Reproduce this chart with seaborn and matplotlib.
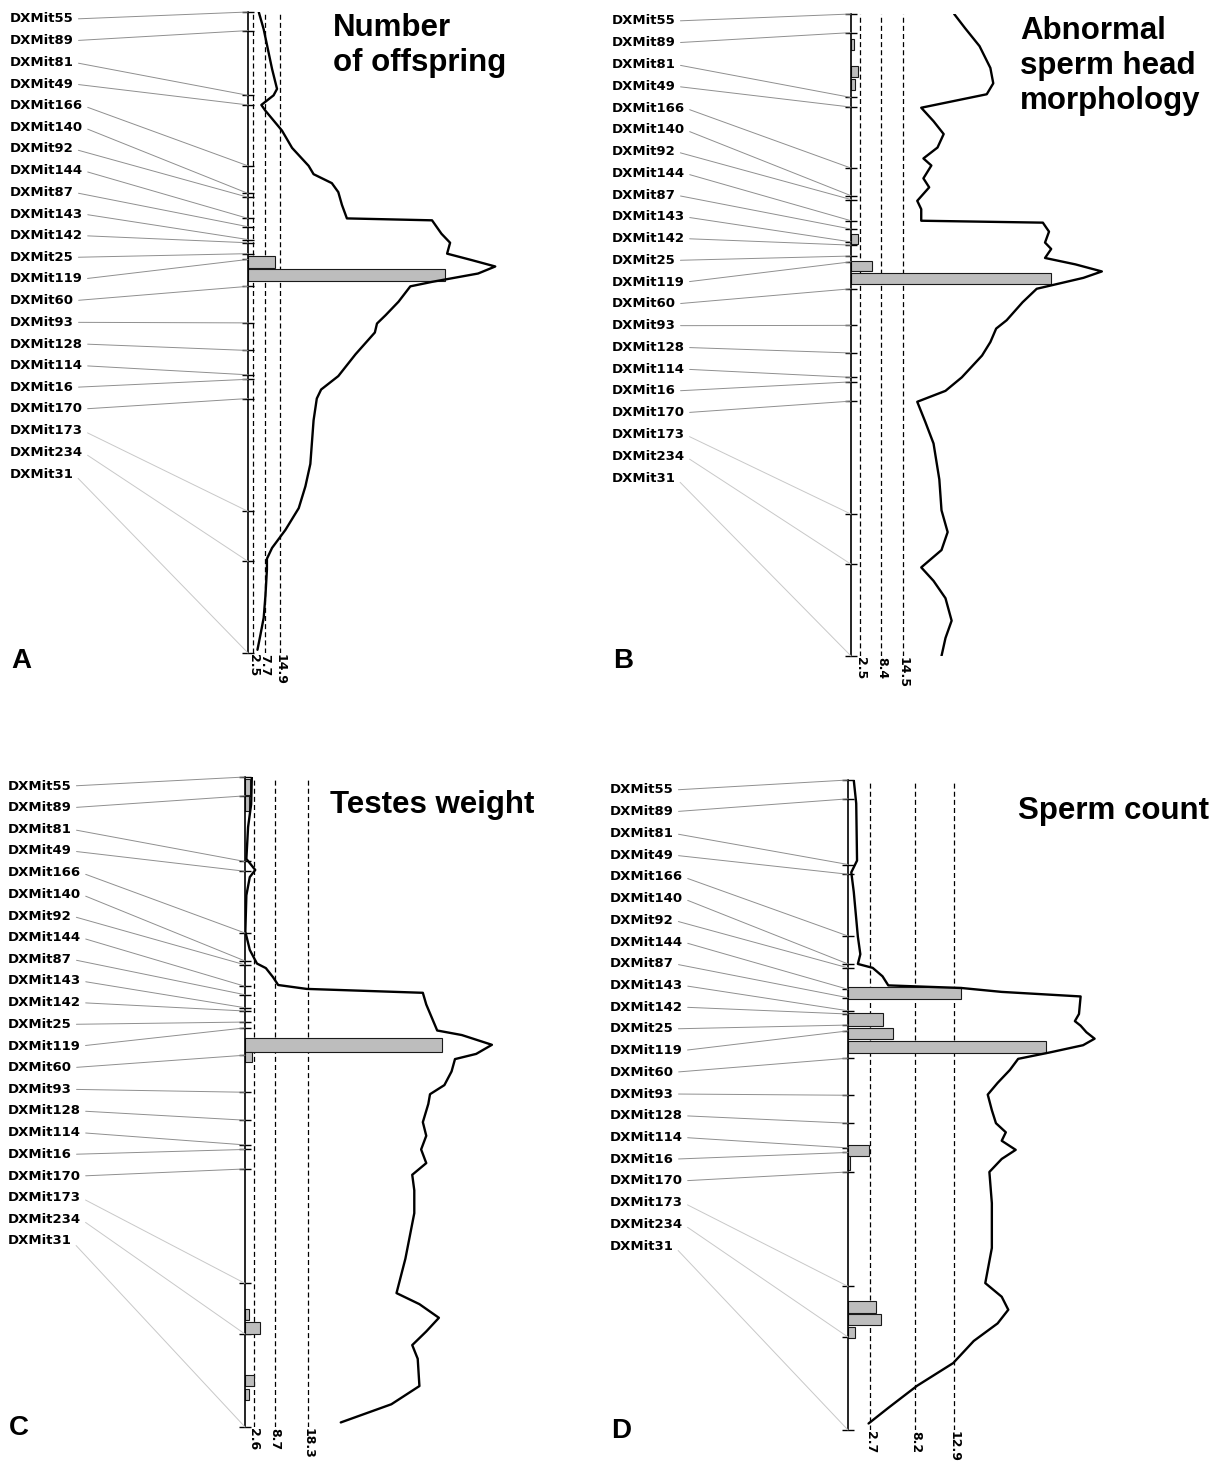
import numpy as np
import matplotlib
matplotlib.use("Agg")
import matplotlib.pyplot as plt
import seaborn as sns

# ---------------- data ----------------
marker_names = ["DXMit55", "DXMit89", "DXMit81", "DXMit49", "DXMit166", "DXMit140",
                "DXMit92", "DXMit144", "DXMit87", "DXMit143", "DXMit142", "DXMit25",
                "DXMit119", "DXMit60", "DXMit93", "DXMit128", "DXMit114", "DXMit16",
                "DXMit170", "DXMit173", "DXMit234", "DXMit31"]
marker_pos = [0, 2.9, 13.0, 14.5, 24.0, 28.3, 28.9, 32.2, 33.5, 35.5, 36.0, 37.7,
              38.6, 42.8, 48.5, 52.8, 56.6, 57.3, 60.3, 77.9, 85.7, 100]

# Panel A - Number of offspring
title_A = "Number\nof offspring"
thresholds_A = [2.5, 7.7, 14.9]
curve_pos_A = [0.0, 2.7, 8.9, 12.0, 13.0, 14.5, 15.4, 18.5, 21.2, 24.0, 25.3, 26.7, 28.1,
               30.1, 32.2, 32.5, 34.6, 36.0, 37.7, 38.7, 39.7, 40.8, 42.1, 42.8, 45.2,
               47.3, 48.6, 50.0, 53.4, 56.8, 58.9, 60.3, 63.7, 70.5, 74.0, 77.4, 80.8,
               83.6, 85.3, 87.0, 91.1, 94.5, 97.3, 99.5]
curve_lrs_A = [5.0, 7.3, 11.2, 13.5, 11.9, 6.2, 8.1, 15.8, 20.5, 28.2, 30.5, 39.0, 42.0,
               43.7, 46.0, 85.6, 90.0, 94.0, 92.6, 104.0, 115.0, 107.0, 85.6, 75.5, 70.0,
               64.0, 60.0, 59.0, 50.0, 42.0, 34.0, 32.0, 30.5, 29.0, 26.7, 23.6, 17.4,
               11.2, 8.8, 8.8, 8.1, 7.3, 5.7, 4.4]
bar_start_A = [38.0, 40.1]
bar_end_A = [39.9, 41.9]
bar_val_A = [12.7, 91.8]

# Panel B - Abnormal sperm head morphology
title_B = "Abnormal\nsperm head\nmorphology"
thresholds_B = [2.5, 8.4, 14.5]
curve_pos_B = [0.0, 2.2, 5.0, 8.4, 10.8, 12.5, 14.6, 16.7, 18.7, 20.8, 22.5, 23.6, 24.6,
               25.6, 27.0, 29.1, 30.4, 32.2, 32.5, 33.9, 35.6, 36.6, 38.0, 39.0, 40.1,
               41.1, 42.8, 44.9, 47.7, 49.0, 51.1, 53.2, 56.6, 58.7, 60.4, 63.5, 66.9,
               72.5, 77.3, 80.7, 83.5, 86.2, 88.3, 91.0, 94.5, 97.2, 100.0]
curve_lrs_B = [28.5, 31.5, 35.5, 38.5, 39.3, 37.5, 19.4, 22.8, 25.6, 23.9, 20.0, 22.2, 21.1,
               20.0, 21.6, 18.3, 19.4, 19.4, 53.0, 54.7, 53.6, 55.3, 53.6, 62.0, 69.3,
               64.2, 51.3, 47.4, 43.0, 40.1, 38.5, 36.2, 30.6, 26.1, 18.3, 20.5, 22.8,
               24.4, 25.0, 26.7, 25.0, 19.4, 22.8, 26.1, 27.8, 26.1, 25.0]
bar_start_B = [3.9, 8.1, 10.1, 34.2, 38.4, 40.4]
bar_end_B = [5.6, 9.8, 11.8, 35.9, 40.1, 42.1]
bar_val_B = [0.9, 2.0, 1.0, 2.0, 5.9, 55.3]

# Panel C - Testes weight
title_C = "Testes weight"
thresholds_C = [2.6, 8.7, 18.3]
curve_pos_C = [0.0, 4.2, 7.7, 12.6, 14.3, 15.4, 18.2, 23.8, 26.6, 28.7, 29.4, 30.8, 32.0,
               32.6, 33.2, 35.0, 37.0, 39.0, 39.7, 41.2, 42.6, 43.4, 45.3, 47.4, 48.8,
               50.3, 53.1, 55.2, 57.3, 59.4, 61.2, 63.6, 67.1, 74.1, 79.4, 81.1, 83.2,
               85.3, 87.4, 89.5, 93.7, 96.5, 99.3]
curve_lrs_C = [2.0, 1.8, 0.9, 0.4, 3.0, 1.4, 0.4, 0.1, 1.4, 3.5, 6.1, 8.2, 9.7,
               18.0, 52.0, 53.0, 54.6, 56.2, 63.4, 72.2, 67.6, 61.4, 60.4, 58.3, 54.1,
               53.6, 52.0, 53.0, 51.5, 53.0, 48.9, 49.5, 49.5, 46.9, 44.3, 51.0, 56.7,
               53.0, 48.9, 50.5, 51.0, 42.8, 28.0]
bar_start_C = [0.3, 3.0, 40.2, 42.3, 81.8, 83.9, 92.0, 94.1]
bar_end_C = [2.8, 5.2, 42.3, 43.9, 83.6, 85.7, 93.7, 95.8]
bar_val_C = [1.6, 1.3, 57.7, 2.0, 1.2, 4.5, 2.5, 1.2]

# Panel D - Sperm count
title_D = "Sperm count"
thresholds_D = [2.7, 8.2, 12.9]
curve_pos_D = [0.0, 3.6, 12.4, 14.2, 17.2, 24.1, 26.8, 28.3, 28.9, 30.2, 31.6, 32.0, 32.6,
               33.3, 36.0, 37.1, 37.8, 38.8, 39.8, 40.8, 41.9, 42.9, 44.6, 46.6, 48.4,
               50.8, 52.8, 54.2, 55.5, 56.9, 58.3, 60.3, 65.1, 72.0, 77.4, 79.5, 81.5,
               83.6, 86.3, 89.7, 93.2, 96.6, 99.0]
curve_lrs_D = [0.7, 1.0, 1.1, 0.4, 0.7, 1.2, 1.5, 1.2, 3.0, 4.2, 4.9, 13.8, 18.7,
               28.3, 28.1, 27.6, 28.3, 29.0, 30.0, 28.6, 24.6, 20.7, 19.7, 18.2, 17.0,
               17.5, 18.0, 19.2, 18.7, 20.4, 18.7, 17.2, 17.5, 17.5, 16.7, 18.7, 19.5,
               18.2, 15.3, 12.8, 8.4, 4.9, 2.5]
bar_start_D = [31.8, 35.9, 38.1, 40.2, 56.1, 57.8, 80.2, 82.2, 84.1]
bar_end_D = [33.7, 37.8, 39.9, 42.0, 57.8, 60.0, 82.0, 83.9, 85.8]
bar_val_D = [13.8, 4.3, 5.5, 24.1, 2.6, 0.3, 3.4, 4.0, 0.9]

# ---------------- style / layout ----------------
sns.set_style("white")
plt.rcParams["font.family"] = ["DejaVu Sans"]
plt.rcParams["text.color"] = "black"
plt.rcParams["xtick.color"] = "black"
plt.rcParams["ytick.color"] = "black"

W, H = 1230, 1461
fig = plt.figure(figsize=(W / 100, H / 100), dpi=100)

layout = {
    "A": dict(axis_x=248, top=12, bottom=653, right=600, scale=2.15,
              label_x=10, label_y0=19, label_y1=474, title_xy=(333, 13), letter_xy=(11, 661)),
    "B": dict(axis_x=851, top=14, bottom=656, right=1225, scale=3.62,
              label_x=612, label_y0=21, label_y1=478, title_xy=(1020, 16), letter_xy=(613, 661)),
    "C": dict(axis_x=245, top=777, bottom=1427, right=600, scale=3.42,
              label_x=8, label_y0=786, label_y1=1241, title_xy=(330, 790), letter_xy=(9, 1428)),
    "D": dict(axis_x=848, top=780, bottom=1430, right=1225, scale=8.22,
              label_x=610, label_y0=790, label_y1=1246, title_xy=(1018, 796), letter_xy=(611, 1431)),
}


def draw_panel(key, title, thresholds, cpos, clrs, bstart, bend, bval):
    L = layout[key]
    w = L["right"] - L["axis_x"]
    h = L["bottom"] - L["top"]
    ax = fig.add_axes([L["axis_x"] / W, 1 - L["bottom"] / H, w / W, h / H])
    ax.set_xlim(0, w / L["scale"])
    ax.set_ylim(100, 0)
    ax.patch.set_alpha(0)

    for t in thresholds:
        ax.axvline(t, color="black", lw=0.9, ls=(0, (4, 2.5)), zorder=1)

    centers = [(s + e) / 2 for s, e in zip(bstart, bend)]
    heights = [e - s for s, e in zip(bstart, bend)]
    ax.barh(centers, bval, height=heights, left=0, color="#bdbdbd",
            edgecolor="#1a1a1a", lw=0.8, zorder=2)

    sns.lineplot(x=clrs, y=cpos, orient="y", estimator=None, color="black",
                 lw=1.7, ax=ax, zorder=3)

    for s in ["top", "right", "bottom"]:
        ax.spines[s].set_visible(False)
    ax.spines["left"].set_linewidth(1.2)
    ax.spines["left"].set_color("black")
    ax.set_xlabel("")
    ax.set_ylabel("")
    ax.grid(False)

    ax.set_yticks(marker_pos)
    ax.set_yticklabels([])
    ax.tick_params(axis="y", direction="inout", length=8, width=1, left=True, colors="black")
    ax.set_xticks(thresholds)
    ax.set_xticklabels([f"{t:.1f}" for t in thresholds], rotation=-90,
                       fontsize=9, fontweight="bold")
    ax.tick_params(axis="x", length=0, pad=1, bottom=True, colors="black")

    ys = np.linspace(L["label_y0"], L["label_y1"], len(marker_names))
    for name, p, ly in zip(marker_names, marker_pos, ys):
        c = "#c8c8c8" if p > 70 else "#8f8f8f"
        ax.annotate(name, xy=(0, p), xycoords="data",
                    xytext=(L["label_x"] / W, 1 - ly / H), textcoords="figure fraction",
                    ha="left", va="center", fontsize=9.5, fontweight="bold", color="black",
                    annotation_clip=False,
                    arrowprops=dict(arrowstyle="-", color=c, lw=0.7, shrinkA=1,
                                    shrinkB=0, relpos=(1, 0.5)))

    tx, ty = L["title_xy"]
    fig.text(tx / W, 1 - ty / H, title, ha="left", va="top", fontsize=22.5, color="black",
             fontweight="bold", family=["Liberation Sans", "DejaVu Sans"], linespacing=1.22)
    lx, lyy = L["letter_xy"]
    fig.text(lx / W, 1 - lyy / H, key, ha="left", va="center", fontsize=20, color="black",
             fontweight="bold", family=["Liberation Sans", "DejaVu Sans"])
    return ax


draw_panel("A", title_A, thresholds_A, curve_pos_A, curve_lrs_A, bar_start_A, bar_end_A, bar_val_A)
draw_panel("B", title_B, thresholds_B, curve_pos_B, curve_lrs_B, bar_start_B, bar_end_B, bar_val_B)
draw_panel("C", title_C, thresholds_C, curve_pos_C, curve_lrs_C, bar_start_C, bar_end_C, bar_val_C)
draw_panel("D", title_D, thresholds_D, curve_pos_D, curve_lrs_D, bar_start_D, bar_end_D, bar_val_D)

fig.savefig("out.png", dpi=100)
